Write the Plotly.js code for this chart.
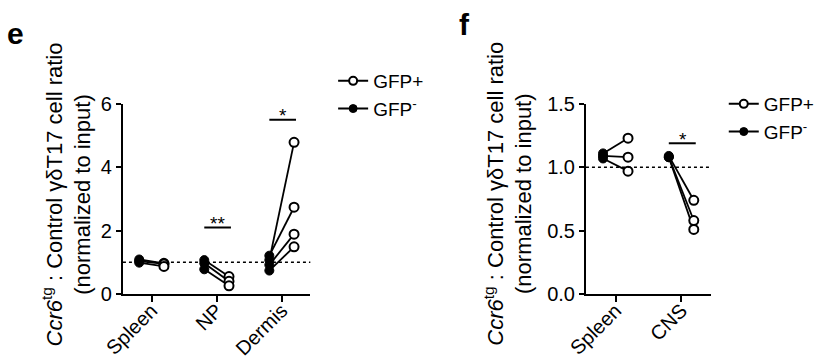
<!DOCTYPE html>
<html>
<head>
<meta charset="utf-8">
<script src="https://cdn.plot.ly/plotly-3.0.1.min.js"></script>
<style>html,body{margin:0;padding:0;background:#fff;}#chart{width:820px;height:360px;}</style>
</head>
<body>
<div id="chart"></div>
<script>
// ---------- Data ----------
// Panel e
const catsE = ['Spleen', 'NP', 'Dermis'];
const eSpleenNeg = [1.09, 1.04, 0.99];
const eSpleenPos = [0.97, 0.95, 0.87];
const eNPNeg = [1.07, 0.97, 0.78];
const eNPPos = [0.55, 0.40, 0.26];
const eDermisNeg = [1.07, 1.21, 0.92, 0.74];
const eDermisPos = [4.79, 2.74, 1.89, 1.49];
const eTicks = [0, 2, 4, 6];
const sigCatsE = [1, 2];
const sigLevelsE = [2.1, 5.5];
const sigLabelsE = ['**', '*'];

// Panel f
const catsF = ['Spleen', 'CNS'];
const fSpleenNeg = [1.11, 1.09, 1.07];
const fSpleenPos = [1.23, 1.08, 0.97];
const fCNSNeg = [1.09, 1.08, 1.08];
const fCNSPos = [0.74, 0.58, 0.51];
const fTicks = [0, 0.5, 1.0, 1.5];
const sigCatsF = [1];
const sigLevelsF = [1.19];
const sigLabelsF = ['*'];

const legendNames = ['GFP+', 'GFP<sup>-</sup>'];
const refLevel = 1;

// ---------- Helpers ----------
const FONT = 'Arial, "Liberation Sans", Helvetica, sans-serif';
const OFF_NEG = -0.19, OFF_POS = 0.19;

function buildPanel(groupsNeg, groupsPos, xa, ya) {
  const lx = [], ly = [], nx = [], ny = [], px = [], py = [];
  groupsNeg.forEach((neg, ci) => {
    const pos = groupsPos[ci];
    neg.forEach((v, i) => {
      lx.push(ci + OFF_NEG, ci + OFF_POS, null);
      ly.push(v, pos[i], null);
      nx.push(ci + OFF_NEG); ny.push(v);
      px.push(ci + OFF_POS); py.push(pos[i]);
    });
  });
  return [
    {x: lx, y: ly, mode: 'lines', line: {color: '#000', width: 1.8}, xaxis: xa, yaxis: ya, showlegend: false, hoverinfo: 'skip'},
    {x: nx, y: ny, mode: 'markers', marker: {symbol: 'circle', size: 9, color: '#000', line: {color: '#000', width: 1}}, xaxis: xa, yaxis: ya, showlegend: false},
    {x: px, y: py, mode: 'markers', marker: {symbol: 'circle', size: 9, color: '#fff', line: {color: '#000', width: 2}}, xaxis: xa, yaxis: ya, showlegend: false}
  ];
}

function sigTraces(cats, levels, xa, ya) {
  const x = [], y = [];
  cats.forEach((c, i) => { x.push(c - 0.19, c + 0.22, null); y.push(levels[i], levels[i], null); });
  return {x: x, y: y, mode: 'lines', line: {color: '#000', width: 2}, xaxis: xa, yaxis: ya, showlegend: false, hoverinfo: 'skip'};
}

function legendTraces(xa, ya, legendId) {
  return [
    {x: [null], y: [null], name: legendNames[0], mode: 'lines+markers', line: {color: '#000', width: 2},
     marker: {symbol: 'circle', size: 8, color: '#fff', line: {color: '#000', width: 2}}, xaxis: xa, yaxis: ya, legend: legendId},
    {x: [null], y: [null], name: legendNames[1], mode: 'lines+markers', line: {color: '#000', width: 2},
     marker: {symbol: 'circle', size: 8, color: '#000', line: {color: '#000', width: 1}}, xaxis: xa, yaxis: ya, legend: legendId}
  ];
}

let data = [];
data = data.concat(buildPanel([eSpleenNeg, eNPNeg, eDermisNeg], [eSpleenPos, eNPPos, eDermisPos], 'x', 'y'));
data.push(sigTraces(sigCatsE, sigLevelsE, 'x', 'y'));
data = data.concat(legendTraces('x', 'y', 'legend'));
data = data.concat(buildPanel([fSpleenNeg, fCNSNeg], [fSpleenPos, fCNSPos], 'x2', 'y2'));
data.push(sigTraces(sigCatsF, sigLevelsF, 'x2', 'y2'));
data = data.concat(legendTraces('x2', 'y2', 'legend2'));

const W = 820, H = 360;
const yDom = [1 - 294 / H, 1 - 104 / H];

const axisCommon = {
  showline: true, linecolor: '#000', linewidth: 2, mirror: false,
  ticks: 'outside', tickcolor: '#000', tickwidth: 2,
  showgrid: false, zeroline: false, fixedrange: true,
  tickfont: {family: FONT, size: 20, color: '#000'}
};

const titleText = '<i>Ccr6</i><sup>tg</sup> : Control γδT17 cell ratio<br>(normalized to input)';

const annotations = [
  {text: '<b>e</b>', xref: 'paper', yref: 'paper', x: 16 / W, y: 1 - 33 / H, xanchor: 'center', yanchor: 'middle', showarrow: false, font: {family: FONT, size: 30, color: '#000'}},
  {text: '<b>f</b>', xref: 'paper', yref: 'paper', x: 469 / W, y: 1 - 25 / H, xanchor: 'center', yanchor: 'middle', showarrow: false, font: {family: FONT, size: 30, color: '#000'}},
  {text: titleText, xref: 'paper', yref: 'paper', x: 67 / W, y: 1 - 194 / H, xanchor: 'center', yanchor: 'middle', textangle: -90, showarrow: false,
   font: {family: FONT, size: 22, color: '#000'}},
  {text: titleText, xref: 'paper', yref: 'paper', x: 512 / W, y: 1 - 194 / H, xanchor: 'center', yanchor: 'middle', textangle: -90, showarrow: false,
   font: {family: FONT, size: 22, color: '#000'}}
];
sigCatsE.forEach((c, i) => annotations.push({text: sigLabelsE[i], xref: 'x', yref: 'y', x: c + 0.02, y: sigLevelsE[i], xanchor: 'center', yanchor: 'middle', yshift: 4, showarrow: false, font: {family: FONT, size: 19, color: '#000'}}));
sigCatsF.forEach((c, i) => annotations.push({text: sigLabelsF[i], xref: 'x2', yref: 'y2', x: c + 0.02, y: sigLevelsF[i], xanchor: 'center', yanchor: 'middle', yshift: 4, showarrow: false, font: {family: FONT, size: 19, color: '#000'}}));

const layout = {
  width: W, height: H, autosize: false,
  margin: {l: 0, r: 0, t: 0, b: 0},
  paper_bgcolor: '#fff', plot_bgcolor: '#fff',
  font: {family: FONT, color: '#000'},
  xaxis: Object.assign({}, axisCommon, {domain: [124 / W, 313 / W], range: [-0.44, 2.44], tickvals: [0, 1, 2], ticktext: catsE, tickangle: -45, ticklen: 6, ticklabelstandoff: -11, anchor: 'y'}),
  yaxis: Object.assign({}, axisCommon, {domain: yDom, range: [0, 6], tickvals: eTicks, ticklen: 5, anchor: 'x'}),
  xaxis2: Object.assign({}, axisCommon, {domain: [591 / W, 717 / W], range: [-0.45, 1.45], tickvals: [0, 1], ticktext: catsF, tickangle: -45, ticklen: 6, ticklabelstandoff: -11, anchor: 'y2'}),
  yaxis2: Object.assign({}, axisCommon, {domain: yDom, range: [0, 1.5], tickvals: fTicks, tickformat: '.1f', ticklen: 5, anchor: 'x2'}),
  shapes: [
    {type: 'line', xref: 'x domain', yref: 'y', x0: 0, x1: 1, y0: refLevel, y1: refLevel, line: {color: '#000', width: 1.5, dash: 'dot'}},
    {type: 'line', xref: 'x2 domain', yref: 'y2', x0: 0, x1: 1, y0: refLevel, y1: refLevel, line: {color: '#000', width: 1.5, dash: 'dot'}}
  ],
  legend: {x: 336 / W, y: 1 - 62 / H, xanchor: 'left', yanchor: 'top', bgcolor: 'rgba(0,0,0,0)', font: {family: FONT, size: 19, color: '#000'}, itemwidth: 30, tracegroupgap: 0},
  legend2: {x: 730 / W, y: 1 - 85 / H, xanchor: 'left', yanchor: 'top', bgcolor: 'rgba(0,0,0,0)', font: {family: FONT, size: 19, color: '#000'}, itemwidth: 30, tracegroupgap: 0},
  annotations: annotations,
  hovermode: false
};

Plotly.newPlot('chart', data, layout, {staticPlot: true, displayModeBar: false});
</script>
</body>
</html>
